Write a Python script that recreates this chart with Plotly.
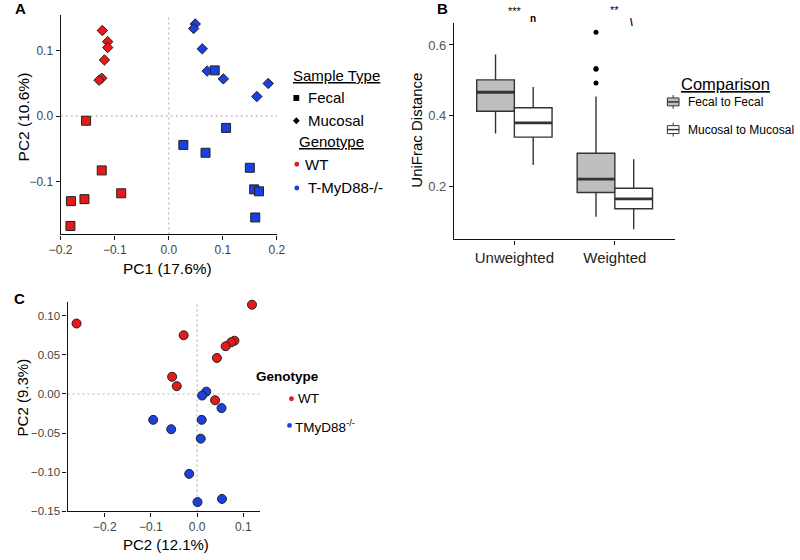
import plotly.graph_objects as go

# ---------------- data ----------------
# Panel A (PCoA, PC1 vs PC2)
wt_fecal_pc1 = [-0.153, -0.124, -0.088, -0.156, -0.181, -0.182]
wt_fecal_pc2 = [-0.007, -0.083, -0.118, -0.127, -0.130, -0.168]
wt_mucosal_pc1 = [-0.123, -0.113, -0.113, -0.119, -0.124, -0.129]
wt_mucosal_pc2 = [0.131, 0.114, 0.105, 0.086, 0.058, 0.055]
ko_fecal_pc1 = [0.085, 0.106, 0.027, 0.068, 0.150, 0.158, 0.167, 0.160]
ko_fecal_pc2 = [0.070, -0.018, -0.044, -0.056, -0.079, -0.112, -0.115, -0.155]
ko_mucosal_pc1 = [0.049, 0.046, 0.062, 0.071, 0.101, 0.184, 0.163]
ko_mucosal_pc2 = [0.141, 0.134, 0.103, 0.069, 0.057, 0.050, 0.030]

# Panel B (UniFrac distance box plots)
metrics = ["Unweighted", "Weighted"]
fecal_q1 = [0.412, 0.182]
fecal_median = [0.466, 0.220]
fecal_q3 = [0.501, 0.293]
fecal_lower = [0.349, 0.113]
fecal_upper = [0.573, 0.454]
fecal_outliers_weighted = [0.636, 0.533, 0.531, 0.492]
mucosal_q1 = [0.339, 0.136]
mucosal_median = [0.379, 0.164]
mucosal_q3 = [0.422, 0.194]
mucosal_lower = [0.260, 0.078]
mucosal_upper = [0.481, 0.276]
signif_labels = ["***", "**"]

# Panel C (PCoA)
c_wt_pc1 = [-0.261, -0.029, 0.119, 0.081, 0.074, 0.062, 0.043, -0.054, -0.044, 0.039]
c_wt_pc2 = [0.090, 0.075, 0.114, 0.068, 0.066, 0.061, 0.046, 0.022, 0.010, -0.008]
c_ko_pc1 = [0.020, 0.011, 0.053, -0.095, 0.010, -0.056, 0.008, -0.017, 0.001, 0.054]
c_ko_pc2 = [0.003, -0.002, -0.018, -0.033, -0.033, -0.045, -0.057, -0.102, -0.138, -0.134]

# ---------------- styling ----------------
W, H = 800, 560
FONT = "Liberation Sans, Arial, Helvetica, sans-serif"
RED = "#E41A1C"
BLUE = "#1B3FE0"
GREY_FILL = "#BEBEBE"
BOX_LINE = "#333333"
TICK_COL = "#444444"


def px(x):
    return x / W


def py(y):
    return 1 - y / H


fig = go.Figure()

# ---- Panel A ----
def a_trace(xs, ys, color, symbol, size):
    return go.Scatter(x=xs, y=ys, mode="markers", xaxis="x", yaxis="y",
                      showlegend=False, cliponaxis=False,
                      marker=dict(color=color, symbol=symbol, size=size,
                                  line=dict(color="#222222", width=1)))


fig.add_trace(a_trace(wt_mucosal_pc1, wt_mucosal_pc2, RED, "diamond", 8))
fig.add_trace(a_trace(ko_mucosal_pc1, ko_mucosal_pc2, BLUE, "diamond", 8))
fig.add_trace(a_trace(wt_fecal_pc1, wt_fecal_pc2, RED, "square", 9))
fig.add_trace(a_trace(ko_fecal_pc1, ko_fecal_pc2, BLUE, "square", 9))

# ---- Panel B ----
half = 0.375 / 2
cat_pos = list(range(1, len(metrics) + 1))
fecal_pos = [p - half for p in cat_pos]
mucosal_pos = [p + half for p in cat_pos]

for pos, q1, med, q3, lo, hi, fill in [
    (fecal_pos, fecal_q1, fecal_median, fecal_q3, fecal_lower, fecal_upper, GREY_FILL),
    (mucosal_pos, mucosal_q1, mucosal_median, mucosal_q3, mucosal_lower, mucosal_upper, "white"),
]:
    fig.add_trace(go.Box(x=pos, q1=q1, median=med, q3=q3, lowerfence=lo, upperfence=hi,
                         xaxis="x2", yaxis="y2", width=0.375, whiskerwidth=0,
                         fillcolor=fill, line=dict(color=BOX_LINE, width=1.4),
                         boxpoints=False, showlegend=False, hoverinfo="skip"))
    mx, my = [], []
    for p, m in zip(pos, med):
        mx += [p - half, p + half, None]
        my += [m, m, None]
    fig.add_trace(go.Scatter(x=mx, y=my, mode="lines", xaxis="x2", yaxis="y2",
                             line=dict(color=BOX_LINE, width=2.8), showlegend=False,
                             hoverinfo="skip"))

fig.add_trace(go.Scatter(x=[fecal_pos[1]] * len(fecal_outliers_weighted),
                         y=fecal_outliers_weighted, mode="markers", xaxis="x2", yaxis="y2",
                         marker=dict(color="black", size=5), showlegend=False,
                         cliponaxis=False))

# ---- Panel C ----
fig.add_trace(go.Scatter(x=c_wt_pc1, y=c_wt_pc2, mode="markers", xaxis="x3", yaxis="y3",
                         showlegend=False, cliponaxis=False,
                         marker=dict(color=RED, size=9, line=dict(color="#222222", width=1))))
fig.add_trace(go.Scatter(x=c_ko_pc1, y=c_ko_pc2, mode="markers", xaxis="x3", yaxis="y3",
                         showlegend=False, cliponaxis=False,
                         marker=dict(color=BLUE, size=9, line=dict(color="#222222", width=1))))

# ---------------- axes ----------------
axis_common = dict(showline=True, linecolor="#111111", linewidth=1.3, ticks="outside",
                   ticklen=4, tickcolor="#111111", tickwidth=1.1, showgrid=False,
                   zeroline=False, tickfont=dict(family=FONT, size=12, color=TICK_COL))

fig.update_layout(
    width=W, height=H, autosize=False,
    margin=dict(l=0, r=0, t=0, b=0),
    paper_bgcolor="white", plot_bgcolor="white",
    font=dict(family=FONT, color="black"),
    boxmode="overlay",
    xaxis=dict(domain=[px(50), px(272)], range=[-0.2, 0.2], anchor="y",
               tickvals=[-0.2, -0.1, 0.0, 0.1, 0.2], tickformat=".1f", **axis_common),
    yaxis=dict(domain=[py(237), py(15)], range=[-0.181, 0.155], anchor="x",
               tickvals=[-0.1, 0.0, 0.1], tickformat=".1f", **axis_common),
    xaxis2=dict(domain=[px(454), px(681)], range=[0.4, 2.6], anchor="y2",
                tickvals=cat_pos, ticktext=metrics,
                **{**axis_common, "tickfont": dict(family=FONT, size=15, color="#222222")}),
    yaxis2=dict(domain=[py(242), py(23)], range=[0.049, 0.663], anchor="x2",
                tickvals=[0.2, 0.4, 0.6], tickformat=".1f",
                **{**axis_common, "tickfont": dict(family=FONT, size=13, color="#555555")}),
    xaxis3=dict(domain=[px(57), px(255)], range=[-0.2806, 0.137], anchor="y3",
                tickvals=[-0.2, -0.1, 0.0, 0.1], tickformat=".1f", **axis_common),
    yaxis3=dict(domain=[py(517), py(305)], range=[-0.15, 0.1178], anchor="x3",
                tickvals=[-0.15, -0.10, -0.05, 0.0, 0.05, 0.10], tickformat=".2f",
                **{**axis_common, "tickfont": dict(family=FONT, size=11.5, color=TICK_COL)}),
)

# zero reference lines (dotted)
DOT = dict(color="#B5B5B5", width=1.2, dash="2px,3px")
for xa, ya in [("x", "y"), ("x3", "y3")]:
    fig.add_shape(type="line", xref=xa, yref=ya + " domain", x0=0, x1=0, y0=0, y1=1,
                  line=DOT, layer="below")
    fig.add_shape(type="line", xref=xa + " domain", yref=ya, x0=0, x1=1, y0=0, y1=0,
                  line=DOT, layer="below")

# ---------------- annotations ----------------
ann = []


def text(x, y, s, size, xanchor="center", angle=0, color="black", bold=False):
    if bold:
        s = "<b>" + s + "</b>"
    ann.append(dict(x=px(x), y=py(y), xref="paper", yref="paper", text=s,
                    showarrow=False, xanchor=xanchor, yanchor="middle", textangle=angle,
                    font=dict(family=FONT, size=size, color=color)))


# panel labels
text(9, 9, "A", 15, bold=True)
text(442, 9, "B", 15, bold=True)
text(8, 302, "C", 15, bold=True)

# axis titles
text(160, 271, "PC1 (17.6%)", 15.5)
text(12, 118, "PC2 (10.6%)", 15.5, angle=-90)
text(415, 132, "UniFrac Distance", 15, angle=-90)
text(158, 550, "PC2 (12.1%)", 15)
text(11, 402, "PC2 (9.3%)", 15, angle=-90)

# significance marks
text(517, 11, signif_labels[0], 11, color="black")
text(619, 10, signif_labels[1], 11, color="black")
text(535, 19, "n", 10, color="black", bold=True)
text(636, 23, "\\", 10, color="black", bold=True)

# legend A
text(287, 76, "<u>Sample Type</u>", 15, xanchor="left")
text(302, 99, "Fecal", 15, xanchor="left")
text(302, 122, "Mucosal", 15, xanchor="left")
text(293, 143, "<u>Genotype</u>", 15, xanchor="left")
text(299, 166, "WT", 15, xanchor="left")
text(302, 190, "T-MyD88-/-", 15, xanchor="left")

# legend B
text(733, 85, "<u>Comparison</u>", 16.5)
text(692, 103, "Fecal to Fecal", 12, xanchor="left")
text(692, 131, "Mucosal to Mucosal", 12, xanchor="left")

# legend C
text(249, 381, "Genotype", 13.5, xanchor="left", bold=True)
text(292, 403, "WT", 13.5, xanchor="left")
text(289, 431, "TMyD88<sup>-/-</sup>", 13.5, xanchor="left")

fig.update_layout(annotations=ann)


def pshape(**kw):
    kw.setdefault("xref", "paper")
    kw.setdefault("yref", "paper")
    fig.add_shape(**kw)


# A legend glyphs: square, diamond, dots
pshape(type="rect", x0=px(289), x1=px(295), y0=py(102), y1=py(96),
       fillcolor="black", line=dict(width=0))
pshape(type="path", path="M %f,%f L %f,%f L %f,%f L %f,%f Z" % (
    px(292), py(118.5), px(295.5), py(122), px(292), py(125.5), px(288.5), py(122)),
    fillcolor="black", line=dict(width=0))
pshape(type="circle", x0=px(290), x1=px(295), y0=py(168.5), y1=py(163.5),
       fillcolor=RED, line=dict(width=0))
pshape(type="circle", x0=px(290), x1=px(295), y0=py(192.5), y1=py(187.5),
       fillcolor=BLUE, line=dict(width=0))

# B legend: box glyphs
for yc, fill in [(103, GREY_FILL), (131, "white")]:
    pshape(type="line", x0=px(679), x1=px(679), y0=py(yc - 7), y1=py(yc + 7),
           line=dict(color=BOX_LINE, width=1))
    pshape(type="rect", x0=px(673), x1=px(685), y0=py(yc + 4), y1=py(yc - 4),
           fillcolor=fill, line=dict(color=BOX_LINE, width=1))
    pshape(type="line", x0=px(673), x1=px(685), y0=py(yc), y1=py(yc),
           line=dict(color=BOX_LINE, width=1.5))

# C legend: dots
pshape(type="circle", x0=px(284.5), x1=px(289.5), y0=py(405.5), y1=py(400.5),
       fillcolor=RED, line=dict(width=0))
pshape(type="circle", x0=px(282.5), x1=px(287.5), y0=py(432.5), y1=py(427.5),
       fillcolor=BLUE, line=dict(width=0))

# remove the browser's default page margin so the 800x560 figure fills the window
fig.write_html("out.html",
               config={"displayModeBar": False},
               post_script="document.body.style.margin='0px';"
                           "document.body.style.overflow='hidden';")
